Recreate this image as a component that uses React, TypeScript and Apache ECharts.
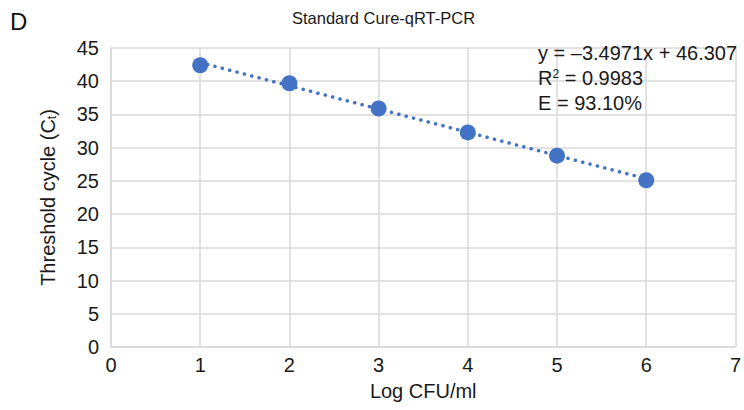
import React, { useEffect, useRef } from "react";
import * as echarts from "echarts";

const logCfu = [1, 2, 3, 4, 5, 6];
const ctValues = [42.4, 39.7, 35.9, 32.3, 28.8, 25.1];
const trendSlope = -3.4971;
const trendIntercept = 46.307;
const trendX = [1, 6];
const eqLines = ["y = \u20133.4971x + 46.307", "R{sup|2} = 0.9983", "E = 93.10%"];

const FONT = "'Liberation Sans', Arial, sans-serif";

export default function App() {
  const ref = useRef<HTMLDivElement>(null);
  useEffect(() => {
    if (!ref.current) return;
    const chart = echarts.init(ref.current, undefined, { renderer: "svg" });
    const pts = logCfu.map((x, i) => [x, ctValues[i]]);
    const trend = trendX.map((x) => [x, trendSlope * x + trendIntercept]);
    chart.setOption({
      animation: false,
      backgroundColor: "#ffffff",
      textStyle: { fontFamily: FONT },
      title: {
        text: "Standard Cure-qRT-PCR",
        left: 287,
        top: 4,
        textStyle: { fontSize: 16.5, fontWeight: "normal", color: "#1a1a1a", fontFamily: FONT },
      },
      grid: { left: 111, right: 3, top: 48, bottom: 63, containLabel: false },
      xAxis: {
        type: "value",
        min: 0,
        max: 7,
        interval: 1,
        name: "Log CFU/ml",
        nameLocation: "middle",
        nameGap: 34,
        nameTextStyle: { fontSize: 20, color: "#1a1a1a", fontFamily: FONT },
        axisLine: { show: true, lineStyle: { color: "#d9d9d9", width: 1.5 } },
        axisTick: { show: false },
        axisLabel: { fontSize: 20, color: "#1a1a1a", margin: 8, fontFamily: FONT },
        splitLine: { show: true, lineStyle: { color: "#d9d9d9", width: 1.5 } },
      },
      yAxis: {
        type: "value",
        min: 0,
        max: 45,
        interval: 5,
        name: "Threshold cycle (C{sub|t})",
        nameLocation: "middle",
        nameGap: 53,
        nameTextStyle: {
          fontSize: 20,
          color: "#1a1a1a",
          fontFamily: FONT,
          rich: {
            sub: { fontSize: 12, color: "#1a1a1a", fontFamily: FONT, padding: [9, 0, 0, 0] },
          },
        },
        axisLine: { show: true, lineStyle: { color: "#d9d9d9", width: 1.5 } },
        axisTick: { show: false },
        axisLabel: { fontSize: 20, color: "#1a1a1a", margin: 12, fontFamily: FONT },
        splitLine: { show: true, lineStyle: { color: "#d9d9d9", width: 1.5 } },
      },
      series: [
        {
          type: "line",
          data: trend,
          showSymbol: false,
          symbol: "none",
          lineStyle: { color: "#4472C4", width: 3.5, type: [0.1, 7.5], cap: "round" },
          z: 2,
        },
        {
          type: "scatter",
          data: pts,
          symbol: "circle",
          symbolSize: 16,
          itemStyle: { color: "#4472C4", opacity: 1 },
          z: 3,
        },
      ],
      graphic: [
        {
          type: "text",
          left: 10,
          top: 9,
          style: { text: "D", fontSize: 24, fill: "#111", fontFamily: FONT },
        },
        ...eqLines.map((t, i) => ({
          type: "text",
          left: 538,
          top: 43 + i * 25,
          z: 10,
          style: {
            text: t,
            fontSize: 20,
            fill: "#1a1a1a",
            fontFamily: FONT,
            rich: {
              sup: { fontSize: 12, fill: "#1a1a1a", fontFamily: FONT, padding: [0, 0, 8, 0] },
            },
          },
        })),
      ],
    });
    return () => chart.dispose();
  }, []);
  return <div ref={ref} style={{ width: 744, height: 410, position: "absolute", left: 0, top: 0 }} />;
}
